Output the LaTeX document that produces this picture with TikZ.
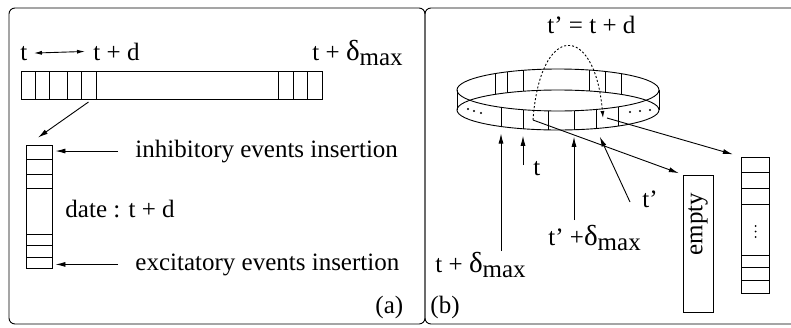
\documentclass[tikz,border=0pt]{standalone}
\usepackage{fontspec}
\setmainfont{Liberation Serif}
\usetikzlibrary{arrows.meta,calc}
\newcommand\dmax{{\fontsize{29}{30}\selectfont δ}\raisebox{-5pt}{max}}

\begin{document}
\begin{tikzpicture}[
  x=1pt, y=-1pt, line width=0.9pt,
  lbl/.style={inner sep=0pt, font=\fontsize{25}{30}\selectfont},
  box/.style={draw, inner sep=0pt},
  arr/.style={-{Latex[length=10pt,width=5pt]}},
  dot/.style={fill, circle, inner sep=0pt, minimum size=2.4pt},
]
\useasboundingbox (0,0) rectangle (791,327);
\clip (0,0) rectangle (791,327);

% ====== Frames ======
\draw[rounded corners=6pt] (9,8) rectangle (425,324);
\draw[rounded corners=6pt] (425,8) rectangle (810,324);

% ====== (a) linear buffer ======
\node[lbl, anchor=base west] (ta) at (20,60) {t};
\node[lbl, anchor=base west] (tda) at (93,60) {t + d};
\node[lbl, anchor=base west] (tmaxa) at (312,60) {t + \dmax};
\draw[{Latex[length=8pt,width=4pt]}-{Latex[length=8pt,width=4pt]}]
  ([xshift=6pt]ta.east) -- ([xshift=-8pt]tda.west);

\node[box, minimum width=301pt, minimum height=28pt] (bar) at (171.5,85) {};
\foreach \x in {35,49,67,81,96,278,293,307} {
  \draw (\x,71) -- (\x,99);
}
\coordinate (tdcell) at (88.5,99);

\node[box, minimum width=26pt, minimum height=123pt] (lstack) at (39,206.5) {};
\foreach \y in {159,174,188,234,245,257} {
  \draw (26,\y) -- (52,\y);
}
\draw[arr] ([yshift=-3pt]tdcell) -- ([xshift=-1pt,yshift=7pt]lstack.north);

\node[lbl, anchor=base west] (inh) at (135,157) {inhibitory events insertion};
\node[lbl, anchor=base west] (date) at (65,217) {date : t + d};
\node[lbl, anchor=base west] (exc) at (135,270) {excitatory events insertion};
\draw[arr, shorten >=3pt] ([xshift=-17pt]inh.west) -- (inh.west -| lstack.east);
\draw[arr, shorten >=3pt] ([xshift=-17pt]exc.west) -- (exc.west -| lstack.east);
\node[lbl, anchor=base west] (capa) at (375,313) {(a)};

% ====== (b) circular buffer ======
\node[lbl, anchor=base west] (tprime) at (547,33) {t' = t + d};

\draw (558,90) ellipse [x radius=101, y radius=21];
\draw (558,110) ellipse [x radius=101, y radius=20];
\draw (457,90) -- (457,110);
\draw (659,90) -- (659,110);
\foreach \x [evaluate=\x as \s using {sqrt(1-((\x-558)/101)^2)}] in {495,507,523,589,605,621} {
  \draw (\x,90-21*\s) -- (\x,110-20*\s);
}
\foreach \x [count=\i, evaluate=\x as \s using {sqrt(1-((\x-558)/101)^2)}] in {501,523,548,574,596,618} {
  \draw (\x,90+21*\s) -- (\x,110+20*\s);
  \coordinate (fb\i) at (\x,110+20*\s);
}
\foreach \p in {(468,109),(474,111),(481,113),(630,112),(640,111),(650,110)} {
  \node[dot] at \p {};
}

\coordinate (cellA) at (533,120);
\coordinate (cellB) at (607,118);
\draw[dash pattern=on 2pt off 2pt, -{Latex[length=7pt,width=4pt]}]
  (cellA) .. controls (540,22) and (595,22) .. ([xshift=-4pt]cellB);

\node[box, minimum width=30pt, minimum height=137pt] (emptybox) at (698,243.5) {};
\node[lbl, rotate=90] (emptytxt) at (698,224) {empty};

\node[box, minimum width=28pt, minimum height=136pt] (rstack) at (755,225) {};
\foreach \y in {172,188,204,255,267,280} {
  \draw (741,\y) -- (769,\y);
}
\foreach \y in {226,231.5,237} {
  \node[dot, minimum size=2pt] at (755.5,\y) {};
}

\draw[arr, shorten >=4pt] (cellA) -- (emptybox.north west);
\draw[arr, shorten >=8pt] (cellB) -- (rstack.north west);

\node[lbl, anchor=base west] (tmaxb) at (435,272) {t + \dmax};
\node[lbl, anchor=base west] (tb) at (533,175) {t};
\node[lbl, anchor=base west] (tpmax) at (548,245) {t' +\dmax};
\node[lbl, anchor=base west] (tpb) at (642,207) {t'};
\node[lbl, anchor=base west] (capb) at (430,313) {(b)};

\coordinate (e1) at (501,251);
\coordinate (e2) at (523,165);
\coordinate (e3) at (574,220);
\coordinate (e4) at (630,202);
\draw[arr, shorten >=7pt] (e1) -- (fb1);
\draw[arr, shorten >=7pt] (e2) -- (fb2);
\draw[arr, shorten >=7pt] (e3) -- (fb4);
\draw[arr, shorten >=9pt] (e4) -- (fb5);

\end{tikzpicture}
\end{document}
